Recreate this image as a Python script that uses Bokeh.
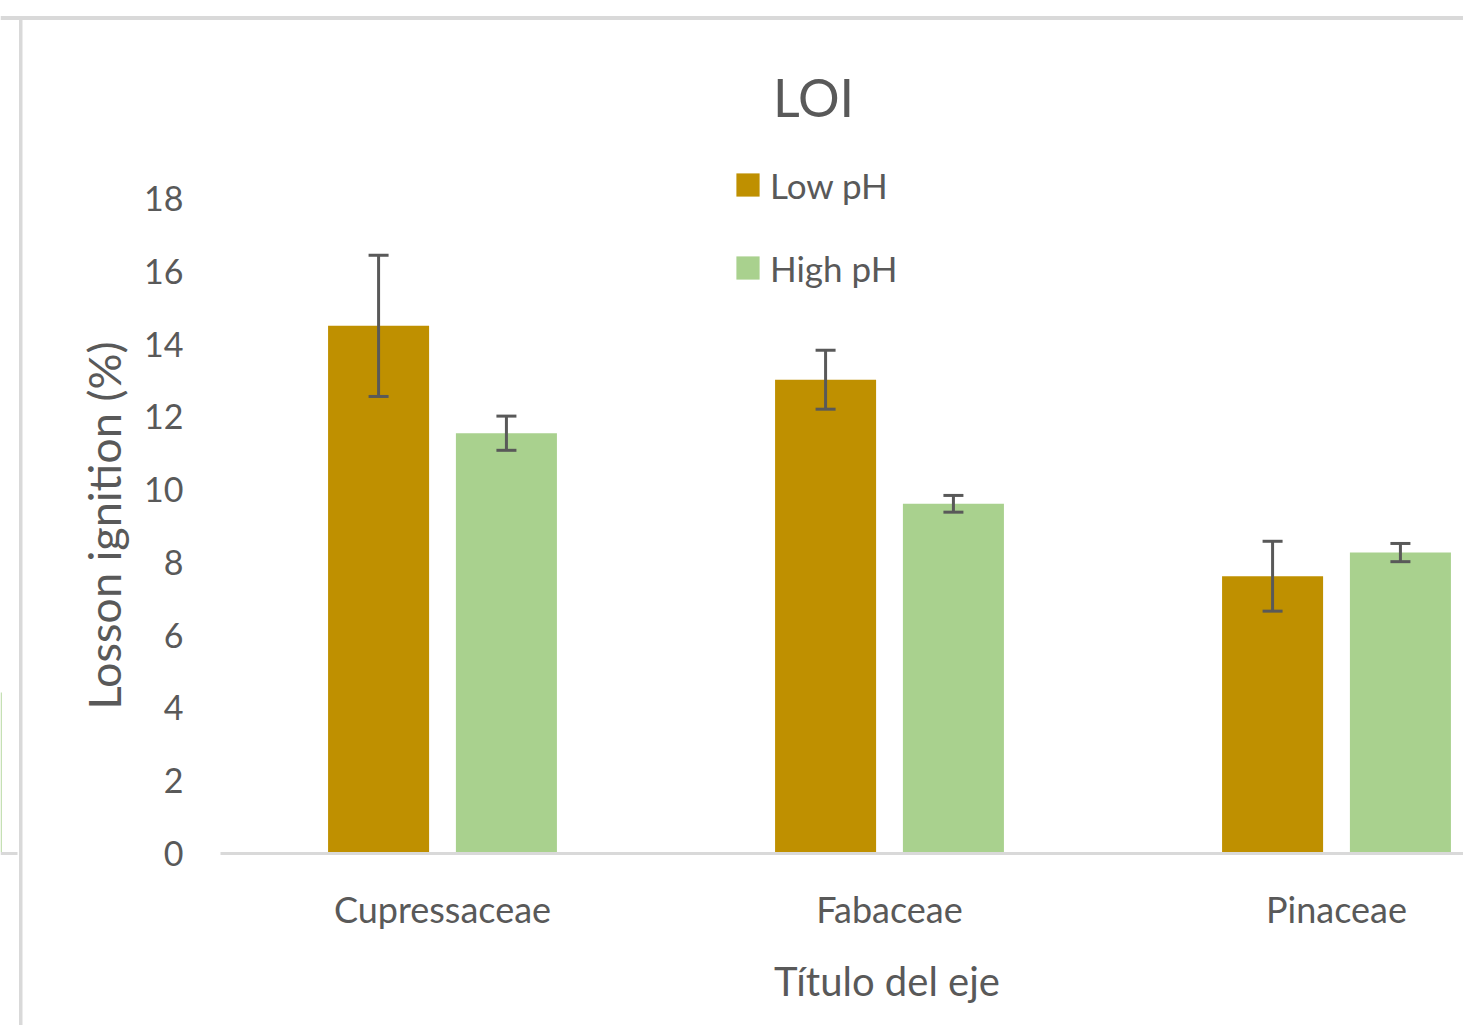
import math
from bokeh.plotting import figure
from bokeh.models import (ColumnDataSource, Range1d, FixedTicker, Whisker, TeeHead,
                          Legend, LegendItem, Label, BoxAnnotation, LinearAxis)
from bokeh.embed import file_html
from bokeh.resources import INLINE

# ---- data ----
categories = ["Cupressaceae", "Fabaceae", "Pinaceae"]
low_ph = [14.5, 13.02, 7.62]
low_err = [1.94, 0.81, 0.96]
high_ph = [11.55, 9.61, 8.27]
high_err = [0.47, 0.23, 0.25]
y_ticks = [0, 2, 4, 6, 8, 10, 12, 14, 16, 18]
series_names = ["Low pH", "High pH"]

LOW_C = "#BF9000"
HIGH_C = "#A9D18E"
TXT = "#595959"
GRID = "#D9D9D9"
FONT = "Lato"

W, H = 1463, 1025
# layout in canvas pixels: category band 447 px, first band starts at 218.5 px,
# value 0 at 853 px, 18 at 198 px
CAT_PX = 447.0
CAT_START = 218.5
Y0_PX = 853.0
UNIT_PX = (853.0 - 198.0) / 18.0
AXIS_LEFT_PX = 220.0

x_start = -CAT_START / CAT_PX
x_end = (W - CAT_START) / CAT_PX
y_end = Y0_PX / UNIT_PX
y_start = -(H - Y0_PX) / UNIT_PX
axis_x = (AXIS_LEFT_PX - CAT_START) / CAT_PX

idx = list(range(len(categories)))
off = 0.143
bw = 0.226

low_src = ColumnDataSource(dict(
    x=[i + 0.5 - off for i in idx], top=low_ph,
    upper=[v + e for v, e in zip(low_ph, low_err)],
    lower=[v - e for v, e in zip(low_ph, low_err)]))
high_src = ColumnDataSource(dict(
    x=[i + 0.5 + off for i in idx], top=high_ph,
    upper=[v + e for v, e in zip(high_ph, high_err)],
    lower=[v - e for v, e in zip(high_ph, high_err)]))

p = figure(width=W, height=H, output_backend="svg", toolbar_location=None,
           x_range=Range1d(x_start, x_end), y_range=Range1d(y_start, y_end),
           x_axis_location=None, y_axis_location=None,
           min_border_left=0, min_border_right=0, min_border_top=0,
           min_border_bottom=0)
p.outline_line_color = None
p.background_fill_color = "white"
p.border_fill_color = "white"
p.grid.visible = False

r_low = p.vbar(x="x", top="top", width=bw, source=low_src, fill_color=LOW_C, line_color=None)
r_high = p.vbar(x="x", top="top", width=bw, source=high_src, fill_color=HIGH_C, line_color=None)

for src in (low_src, high_src):
    w = Whisker(base="x", upper="upper", lower="lower", source=src,
                line_color=TXT, line_width=3, level="overlay",
                upper_head=TeeHead(size=20, line_color=TXT, line_width=3),
                lower_head=TeeHead(size=20, line_color=TXT, line_width=3))
    p.add_layout(w)

# x axis (fixed at value 0)
xa = LinearAxis(fixed_location=0, bounds=(axis_x, x_end))
xa.ticker = FixedTicker(ticks=[i + 0.5 for i in idx])
xa.major_label_overrides = {i + 0.5: c for i, c in zip(idx, categories)}
xa.axis_line_color = GRID
xa.axis_line_width = 3
xa.major_tick_line_color = None
xa.minor_tick_line_color = None
xa.major_tick_out = 0
xa.major_tick_in = 0
xa.major_label_standoff = 33
xa.major_label_text_font = FONT
xa.major_label_text_font_size = "36px"
xa.major_label_text_color = TXT
p.add_layout(xa, "below")

# y axis (fixed at the left edge of the plot area)
ya = LinearAxis(fixed_location=axis_x, bounds=(0, 18))
ya.ticker = FixedTicker(ticks=y_ticks)
ya.axis_line_color = None
ya.major_tick_line_color = None
ya.minor_tick_line_color = None
ya.major_tick_out = 0
ya.major_tick_in = 0
ya.major_label_standoff = 37
ya.major_label_text_font = FONT
ya.major_label_text_font_size = "34px"
ya.major_label_text_color = TXT
p.add_layout(ya, "left")

def sy(ref_y):
    return H - ref_y

# titles
p.add_layout(Label(x=813, y=sy(96), x_units="screen", y_units="screen", text="LOI",
                   text_font=FONT, text_font_size="52px", text_color=TXT,
                   text_align="center", text_baseline="alphabetic"))
p.add_layout(Label(x=886.5, y=sy(980), x_units="screen", y_units="screen",
                   text="Título del eje", text_font=FONT, text_font_size="40px",
                   text_color=TXT, text_align="center", text_baseline="alphabetic"))
p.add_layout(Label(x=103, y=sy(525), x_units="screen", y_units="screen",
                   text="Losson ignition (%)", angle=math.pi / 2,
                   text_font=FONT, text_font_size="45px", text_color=TXT,
                   text_align="center", text_baseline="middle"))

# legend
legend = Legend(items=[LegendItem(label=series_names[0], renderers=[r_low]),
                       LegendItem(label=series_names[1], renderers=[r_high])],
                location=(733, sy(288.5)), orientation="vertical",
                glyph_width=29, glyph_height=29, label_standoff=8,
                spacing=41, padding=0, margin=0,
                border_line_color=None, background_fill_alpha=0,
                label_text_font=FONT, label_text_font_size="35px",
                label_text_color=TXT)
p.add_layout(legend, "center")

# decoration of the surrounding sheet
def deco(left, right, top_ref, bottom_ref, color=GRID):
    p.add_layout(BoxAnnotation(left=left, right=right, top=sy(top_ref), bottom=sy(bottom_ref),
                               left_units="screen", right_units="screen",
                               top_units="screen", bottom_units="screen",
                               fill_color=color, fill_alpha=1.0, line_color=None,
                               level="overlay"))

deco(0, W, 15.5, 19.5)
deco(18.5, 22, 17, H)
deco(0, 17, 851.5, 854.5)
deco(0, 1.5, 692, 851.5, color="#C5E0B4")

open("out.html", "w").write(file_html(p, INLINE))
